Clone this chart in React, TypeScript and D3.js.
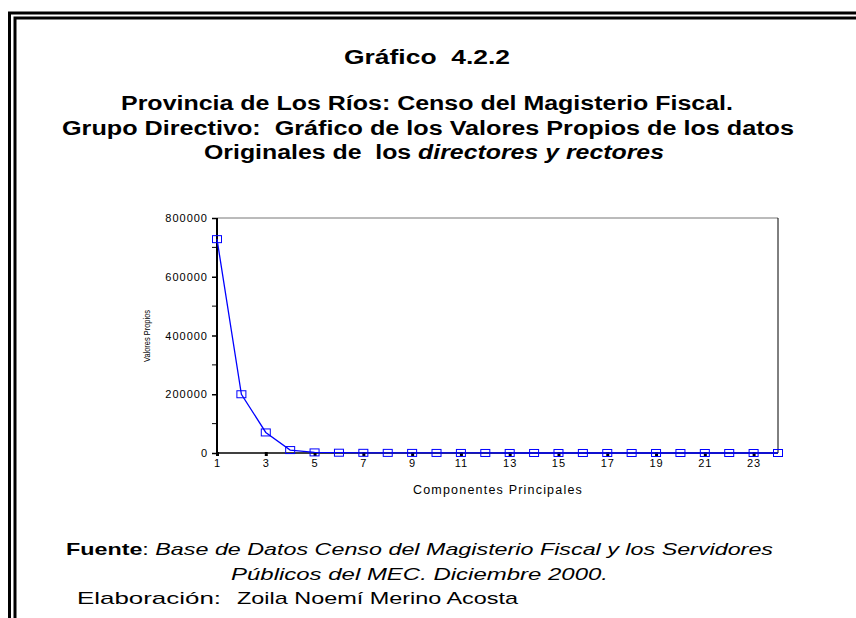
import React, { useEffect, useRef } from "react";
import * as d3 from "d3";

// eigenvalues of the 24 principal components
const components = d3.range(1, 25);
const eigenValues = [
  728000, 200000, 70000, 10000, 2000, 1000, 600, 400, 300, 200, 150, 100, 80,
  60, 50, 40, 30, 20, 15, 10, 8, 5, 3, 1,
];
const yTicks = [0, 200000, 400000, 600000, 800000];
const yMinorTicks = [100000, 300000, 500000, 700000];
const xTicks = [1, 3, 5, 7, 9, 11, 13, 15, 17, 19, 21, 23];

const titleLines = [
  "Provincia de Los Ríos: Censo del Magisterio Fiscal.",
  "Grupo Directivo:\u00a0 Gráfico de los Valores Propios de los datos",
];

const App = () => {
  const ref = useRef<SVGSVGElement>(null);

  useEffect(() => {
    const svg = d3.select(ref.current);
    svg.selectAll("*").remove();

    const font = "'Liberation Sans', Arial, sans-serif";

    // double frame, open on the right and bottom
    svg
      .append("path")
      .attr("d", "M9.5,618 V13 H856")
      .attr("fill", "none")
      .attr("stroke", "#000")
      .attr("stroke-width", 3);
    svg
      .append("path")
      .attr("d", "M15,618 V18 H856")
      .attr("fill", "none")
      .attr("stroke", "#000")
      .attr("stroke-width", 3);

    // titles
    svg
      .append("text")
      .attr("x", 344)
      .attr("y", 64)
      .attr("font-family", font)
      .attr("font-weight", "bold")
      .attr("font-size", 20)
      .attr("textLength", 166)
      .attr("lengthAdjust", "spacingAndGlyphs")
      .text("Gráfico\u00a0 4.2.2");

    const tl = [
      { text: titleLines[0], x: 121, w: 612, y: 110 },
      { text: titleLines[1], x: 62, w: 732, y: 135 },
    ];
    tl.forEach((t) => {
      svg
        .append("text")
        .attr("x", t.x)
        .attr("y", t.y)
        .attr("font-family", font)
        .attr("font-weight", "bold")
        .attr("font-size", 20)
        .attr("textLength", t.w)
        .attr("lengthAdjust", "spacingAndGlyphs")
        .text(t.text);
    });
    const l4 = svg
      .append("text")
      .attr("x", 204)
      .attr("y", 159)
      .attr("font-family", font)
      .attr("font-weight", "bold")
      .attr("font-size", 20)
      .attr("textLength", 460)
      .attr("lengthAdjust", "spacingAndGlyphs");
    l4.append("tspan").text("Originales de\u00a0 los ");
    l4.append("tspan").attr("font-style", "italic").text("directores y rectores");

    // plot area
    const left = 217;
    const right = 778;
    const top = 218;
    const bottom = 453;

    const x = d3.scaleLinear().domain([1, 24]).range([left, right]);
    const y = d3.scaleLinear().domain([0, 800000]).range([bottom, top]);

    // top and right frame
    svg
      .append("line")
      .attr("x1", left)
      .attr("x2", right)
      .attr("y1", top)
      .attr("y2", top)
      .attr("stroke", "#777")
      .attr("stroke-width", 1);
    svg
      .append("line")
      .attr("x1", right)
      .attr("x2", right)
      .attr("y1", top)
      .attr("y2", bottom)
      .attr("stroke", "#000")
      .attr("stroke-width", 1);

    // y axis
    const yAxis = d3
      .axisLeft(y)
      .tickValues(yTicks)
      .tickSize(5)
      .tickPadding(4)
      .tickFormat((d) => String(d));
    const yAxisGroup = svg
      .append("g")
      .attr("transform", `translate(${left},0)`)
      .call(yAxis);
    yAxisGroup.select(".domain").attr("stroke-width", 2).attr("d", `M0,${top}V${bottom}`);
    yAxisGroup
      .selectAll("text")
      .attr("font-family", font)
      .attr("font-size", 11)
      .attr("letter-spacing", 1)
      .attr("fill", "#000");
    yAxisGroup.selectAll("line").attr("stroke-width", 1.5);
    svg
      .append("g")
      .selectAll("line")
      .data(yMinorTicks)
      .enter()
      .append("line")
      .attr("x1", left - 5)
      .attr("x2", left)
      .attr("y1", (d) => y(d))
      .attr("y2", (d) => y(d))
      .attr("stroke", "#000")
      .attr("stroke-width", 1);

    // x axis
    const xAxis = d3
      .axisBottom(x)
      .tickValues(xTicks)
      .tickSize(3)
      .tickPadding(3)
      .tickFormat((d) => String(d));
    const xAxisGroup = svg
      .append("g")
      .attr("transform", `translate(0,${bottom})`)
      .call(xAxis);
    xAxisGroup.select(".domain").attr("stroke-width", 1.5).attr("d", `M${left},0H${right}`);
    xAxisGroup
      .selectAll("line")
      .attr("stroke-width", 3)
      .attr("y1", -1);
    xAxisGroup
      .selectAll("text")
      .attr("font-family", font)
      .attr("font-size", 11)
      .attr("letter-spacing", 1)
      .attr("fill", "#000");

    // axis labels
    svg
      .append("text")
      .attr("x", 498)
      .attr("y", 494)
      .attr("text-anchor", "middle")
      .attr("font-family", font)
      .attr("font-size", 12.5)
      .attr("letter-spacing", 1.2)
      .text("Componentes Principales");
    svg
      .append("text")
      .attr("transform", "translate(150,336) rotate(-90)")
      .attr("text-anchor", "middle")
      .attr("font-family", font)
      .attr("font-size", 8.5)
      .attr("textLength", 52)
      .attr("lengthAdjust", "spacingAndGlyphs")
      .text("Valores Propios");

    // scree line
    const line = d3
      .line<number>()
      .x((d, i) => x(components[i]))
      .y((d) => y(d));
    svg
      .append("path")
      .datum(eigenValues)
      .attr("d", line)
      .attr("fill", "none")
      .attr("stroke", "#0000ff")
      .attr("stroke-width", 1.3);

    svg
      .append("g")
      .selectAll("rect")
      .data(eigenValues)
      .enter()
      .append("rect")
      .attr("x", (d, i) => x(components[i]) - 4.5)
      .attr("y", (d) => y(d) - 3.5)
      .attr("width", 9)
      .attr("height", 7)
      .attr("fill", "none")
      .attr("stroke", "#0000ff")
      .attr("stroke-width", 1);

    // footer
    const f1 = svg
      .append("text")
      .attr("x", 66)
      .attr("y", 555)
      .attr("font-family", font)
      .attr("font-size", 17)
      .attr("textLength", 707)
      .attr("lengthAdjust", "spacingAndGlyphs");
    f1.append("tspan").attr("font-weight", "bold").text("Fuente");
    f1.append("tspan").text(": ");
    f1.append("tspan")
      .attr("font-style", "italic")
      .text("Base de Datos Censo del Magisterio Fiscal y los Servidores");

    svg
      .append("text")
      .attr("x", 231)
      .attr("y", 580)
      .attr("font-family", font)
      .attr("font-size", 17)
      .attr("font-style", "italic")
      .attr("textLength", 377)
      .attr("lengthAdjust", "spacingAndGlyphs")
      .text("Públicos del MEC. Diciembre 2000.");

    svg
      .append("text")
      .attr("x", 77)
      .attr("y", 604)
      .attr("font-family", font)
      .attr("font-size", 17)
      .attr("textLength", 144)
      .attr("lengthAdjust", "spacingAndGlyphs")
      .text("Elaboración:");
    svg
      .append("text")
      .attr("x", 237)
      .attr("y", 604)
      .attr("font-family", font)
      .attr("font-size", 17)
      .attr("textLength", 281)
      .attr("lengthAdjust", "spacingAndGlyphs")
      .text("Zoila Noemí Merino Acosta");
  }, []);

  return (
    <svg
      ref={ref}
      width={856}
      height={618}
      style={{ position: "absolute", left: 0, top: 0, background: "#fff" }}
    />
  );
};

export default App;
